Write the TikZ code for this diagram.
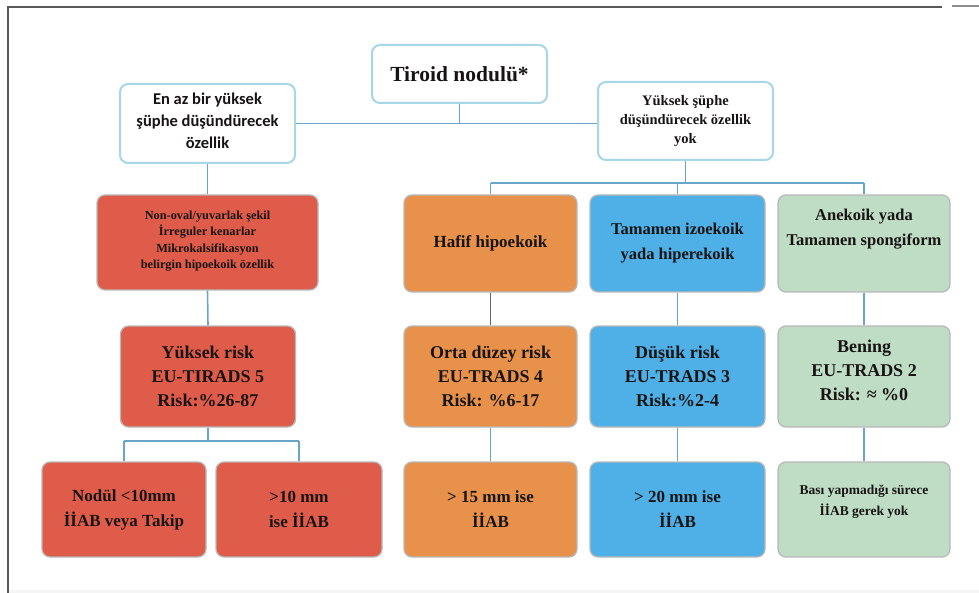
\documentclass[tikz,border=0pt]{standalone}
\usepackage{fontspec}
\setmainfont{Liberation Serif}
\newfontfamily\carl{Carlito}
\definecolor{cred}{RGB}{224,92,74}
\definecolor{corange}{RGB}{232,145,74}
\definecolor{cblue}{RGB}{78,176,230}
\definecolor{cgreen}{RGB}{190,221,196}
\definecolor{lblue}{RGB}{165,215,230}
\definecolor{lineblue}{RGB}{105,165,200}
\definecolor{txt}{RGB}{25,20,20}
\begin{document}
\begin{tikzpicture}[x=1pt,y=-1pt,
  box/.style={rounded corners=8pt, draw=black!28, line width=1.3pt, align=center, inner sep=0pt, text=txt},
  wbox/.style={rounded corners=8pt, draw=lblue, line width=2pt, fill=white, align=center, inner sep=0pt, text=txt},
  conn/.style={draw=lineblue, line width=1.6pt},
  darkconn/.style={draw=black!60, line width=1.6pt},
  fA/.style={font=\fontsize{18}{24}\selectfont\bfseries},
  fB/.style={font=\fontsize{16.5}{25}\selectfont\bfseries},
  fC/.style={font=\fontsize{12.3}{16.5}\selectfont\bfseries},
  fD/.style={font=\fontsize{17}{25}\selectfont\bfseries},
  fE/.style={font=\fontsize{13.5}{21}\selectfont\bfseries}
]
\useasboundingbox (0,0) rectangle (979,593);
% frame
\fill[black!4] (8,590) rectangle (979,593);
\draw[black!65, line width=1.5pt] (8,593) -- (8,7) -- (942,7);
\draw[black!45, line width=2pt] (952,6) -- (979,6);

% top level
\node[wbox, minimum width=175pt, minimum height=58pt, font=\fontsize{21.5}{26}\selectfont\bfseries] (tn) at (459.5,74) {Tiroid nodulü*};
\node[wbox, minimum width=175pt, minimum height=79pt, font=\fontsize{16.5}{22}\selectfont\carl\bfseries] (lb) at (207.5,123.5) {En az bir yüksek\\şüphe düşündürecek\\özellik\\[-16pt]};
\node[wbox, minimum width=175pt, minimum height=78pt, font=\fontsize{14.5}{19}\selectfont\bfseries] (rb) at (685.5,121) {Yüksek şüphe\\düşündürecek özellik\\yok};

% row 1
\node[box, fill=cred, fC, minimum width=221pt, minimum height=95pt] (r1) at (207.5,242.5) {Non-oval/yuvarlak şekil\\İrreguler kenarlar\\Mikrokalsifikasyon\\belirgin hipoekoik özellik\\[-10.5pt]};
\node[box, fill=corange, fD, minimum width=173pt, minimum height=97pt] (o1) at (490.5,243.5) {Hafif hipoekoik};
\node[box, fill=cblue, fB, minimum width=175pt, minimum height=97pt] (b1) at (677.5,243.5) {Tamamen izoekoik\\yada hiperekoik};
\node[box, fill=cgreen, fB, minimum width=172pt, minimum height=97pt] (g1) at (864,243.5) {Anekoik yada\\Tamamen spongiform\\[8pt]};

% row 2
\node[box, fill=cred, fA, minimum width=175pt, minimum height=101pt] (r2) at (208,376.5) {Yüksek risk\\EU-TIRADS 5\\Risk:\%26-87};
\node[box, fill=corange, fA, minimum width=173pt, minimum height=101pt] (o2) at (490.5,376.5) {Orta düzey risk\\EU-TRADS 4\\Risk: \%6-17};
\node[box, fill=cblue, fA, minimum width=175pt, minimum height=101pt] (b2) at (677.5,376.5) {Düşük risk\\EU-TRADS 3\\Risk:\%2-4};
\node[box, fill=cgreen, fA, minimum width=172pt, minimum height=101pt] (g2) at (864,376.5) {Bening\\EU-TRADS 2\\Risk: ≈ \%0\\[-12pt]};

% row 3
\node[box, fill=cred, fD, minimum width=164pt, minimum height=95pt] (r3a) at (124,509.5) {Nodül <10mm\\İİAB veya Takip};
\node[box, fill=cred, fD, minimum width=166pt, minimum height=95pt] (r3b) at (299,509.5) {>10 mm\\ise İİAB};
\node[box, fill=corange, fD, minimum width=173pt, minimum height=95pt] (o3) at (490.5,509.5) {> 15 mm ise\\İİAB};
\node[box, fill=cblue, fD, minimum width=175pt, minimum height=95pt] (b3) at (677.5,509.5) {> 20 mm ise\\İİAB};
\node[box, fill=cgreen, fE, minimum width=172pt, minimum height=95pt] (g3) at (864,509.5) {Bası yapmadığı sürece\\İİAB gerek yok\\[-3pt]};

% connectors
\coordinate (j1) at (459.5,123);
\coordinate (j2) at (685.5,183);
\coordinate (j3) at (208,441);
\draw[conn] (tn.south) -- (j1);
\draw[conn] (lb.east) -- (lb.east -| rb.west);
\draw[conn] (lb.south) -- (r1.north);
\draw[conn] (rb.south) -- (j2);
\draw[conn] (o1.north |- j2) -- (g1.north |- j2);
\draw[conn] (o1.north |- j2) -- (o1.north);
\draw[conn] (b1.north |- j2) -- (b1.north);
\draw[conn] (g1.north |- j2) -- (g1.north);
\draw[conn] (r1.south) -- (r2.north);
\draw[darkconn] (o1.south) -- (o2.north);
\draw[conn] (b1.south) -- (b2.north);
\draw[conn] (g1.south) -- (g2.north);
\draw[conn] (r2.south) -- (j3);
\draw[conn] (r3a.north |- j3) -- (r3b.north |- j3);
\draw[conn] (r3a.north |- j3) -- (r3a.north);
\draw[conn] (r3b.north |- j3) -- (r3b.north);
\draw[conn] (o2.south) -- (o3.north);
\draw[conn] (b2.south) -- (b3.north);
\draw[conn] (g2.south) -- (g3.north);
\end{tikzpicture}
\end{document}
